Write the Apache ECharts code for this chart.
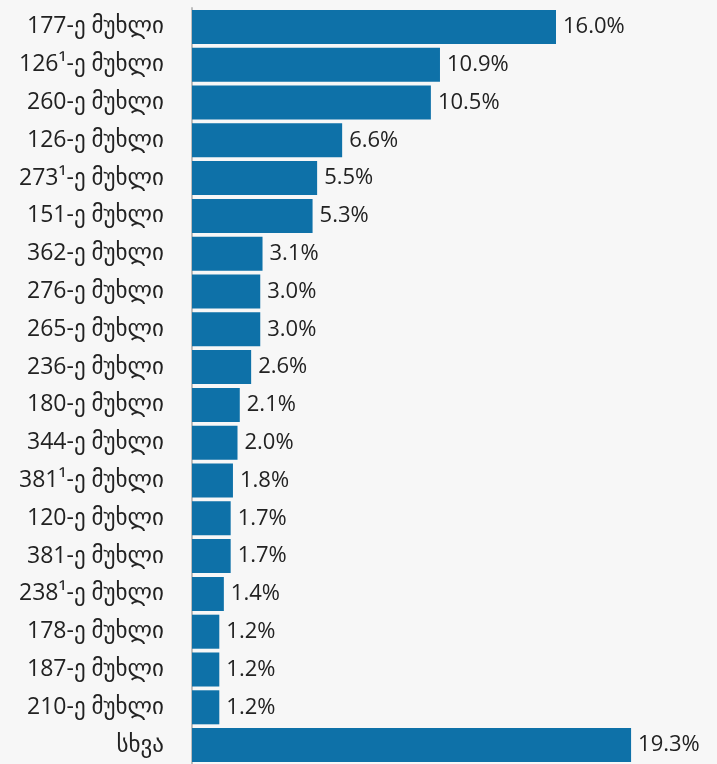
<!DOCTYPE html>
<html><head><meta charset="utf-8">
<script src="https://cdn.jsdelivr.net/npm/echarts@6/dist/echarts.min.js"></script>
<style>html,body{margin:0;padding:0;background:#f7f7f7;}#c{width:717px;height:764px;}</style>
</head><body><div id="c"></div>
<script>
const categories = ["177-ე მუხლი","126¹-ე მუხლი","260-ე მუხლი","126-ე მუხლი","273¹-ე მუხლი","151-ე მუხლი","362-ე მუხლი","276-ე მუხლი","265-ე მუხლი","236-ე მუხლი","180-ე მუხლი","344-ე მუხლი","381¹-ე მუხლი","120-ე მუხლი","381-ე მუხლი","238¹-ე მუხლი","178-ე მუხლი","187-ე მუხლი","210-ე მუხლი","სხვა"];
const values = [16.0,10.9,10.5,6.6,5.5,5.3,3.1,3.0,3.0,2.6,2.1,2.0,1.8,1.7,1.7,1.4,1.2,1.2,1.2,19.3];
const font = "'Open Sans','Noto Sans','DejaVu Sans',sans-serif";
const chart = echarts.init(document.getElementById('c'));
chart.setOption({
  backgroundColor:'#f7f7f7',
  animation:false,
  grid:{left:192,right:24.5,top:8,bottom:0,containLabel:false},
  xAxis:{type:'value',min:0,max:22,show:false},
  yAxis:{type:'category',data:categories,inverse:true,
    axisLine:{show:true,lineStyle:{color:'#bdbdbd',width:2}},
    axisTick:{show:false},
    axisLabel:{color:'#222',fontSize:23,fontFamily:font,margin:28}},
  series:[{type:'bar',data:values,barCategoryGap:'10%',
    itemStyle:{color:'#0e71a8'},
    label:{show:true,position:'right',distance:7,color:'#222',fontSize:22,fontFamily:font,
      formatter:p=>p.value.toFixed(1)+'%'}}]
});
</script></body></html>
